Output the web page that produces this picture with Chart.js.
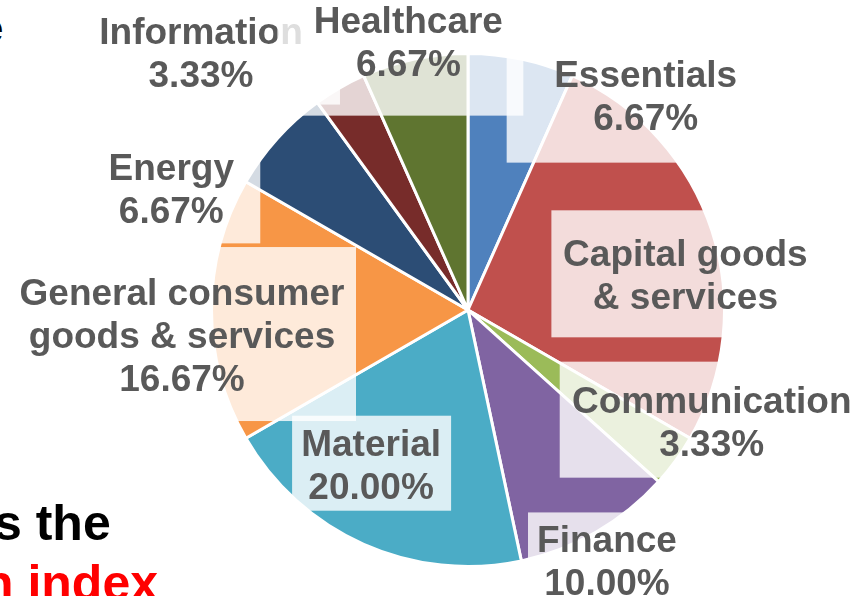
<!DOCTYPE html>
<html>
<head>
<meta charset="utf-8">
<script src="https://cdn.jsdelivr.net/npm/chart.js@4/dist/chart.umd.min.js"></script>
<style>
  body {
    margin: 0;
    width: 856px;
    height: 596px;
    overflow: hidden;
    position: relative;
    background: #fff;
    font-family: "Liberation Sans", Arial, sans-serif;
  }
  #pieChart { position: absolute; left: 0; top: 0; }
  .slideText {
    position: absolute;
    font-weight: bold;
    font-size: 50px;
    line-height: 1;
    white-space: nowrap;
    color: #000;
  }
  .red { color: #ff0000; }
</style>
</head>
<body>
<div class="slideText" style="left:-19px; top:8px; font-size:40px;">e</div>
<div class="slideText" style="left:-6px; top:498px;">s the</div>
<div class="slideText red" style="left:-17px; top:558px;">n index</div>
<canvas id="pieChart" width="856" height="596"></canvas>
<script>
const sectors = [
  "Essentials",
  "Capital goods & services",
  "Communication",
  "Finance",
  "Material",
  "General consumer goods & services",
  "Energy",
  "Information",
  "Healthcare",
];
const shares = [6.67, 26.67, 3.33, 10.0, 20.0, 16.67, 6.67, 3.33, 6.67];
const sectorColors = [
  "#4F81BD", "#C0504D", "#9BBB59", "#8064A2", "#4BACC6",
  "#F79646", "#2C4D75", "#772C2A", "#5F7530",
];

// how each label's name wraps, and whether the share is printed under it
const nameLines = [
  ["Essentials"],
  ["Capital goods", "& services"],
  ["Communication"],
  ["Finance"],
  ["Material"],
  ["General consumer", "goods & services"],
  ["Energy"],
  ["Information"],
  ["Healthcare"],
];
const showShare = [true, false, true, true, true, true, true, true, true];

// label placement: shift from the rim point at the middle of each slice
const labelShift = [
  [124, 29], [-28, 36], [35, -49], [10, 19], [8, -90],
  [-28, -5], [-105, 43], [-138, -43], [-6, -25],
];
// label backing box [left, top, right, bottom] around the first baseline
const labelBox = [
  [-139, -57, 139, 76],
  [-134, -56, 133, 71],
  [-152, -51, 152, 65],
  [-79, -40, 79, 68],
  [-79, -40, 80, 55],
  [-174, -58, 174, 116],
  [-89, -56, 89, 63],
  [-139, -57, 139, 61],
  [-131, -57, 115, 83],
];
const lineGap = 43;

const sectorLabels = {
  id: "sectorLabels",
  afterDatasetsDraw(chart) {
    const ctx = chart.ctx;
    const arcs = chart.getDatasetMeta(0).data;
    ctx.save();
    ctx.font = "bold 37px 'Liberation Sans', Arial, sans-serif";
    ctx.textAlign = "center";
    ctx.textBaseline = "alphabetic";
    arcs.forEach((arc, i) => {
      const { x, y, startAngle, endAngle, outerRadius } = arc.getProps(
        ["x", "y", "startAngle", "endAngle", "outerRadius"],
        true
      );
      const mid = (startAngle + endAngle) / 2;
      const rim = outerRadius + 1.5;
      const px = x + Math.cos(mid) * rim + labelShift[i][0];
      const py = y + Math.sin(mid) * rim + labelShift[i][1];

      const [l, t, r, b] = labelBox[i];
      ctx.fillStyle = "rgba(255, 255, 255, 0.8)";
      ctx.fillRect(px + l, py + t, r - l, b - t);

      const lines = nameLines[i].slice();
      if (showShare[i]) {
        lines.push(`${shares[i].toFixed(2)}%`);
      }
      ctx.fillStyle = "#595959";
      lines.forEach((line, k) => {
        ctx.fillText(line, px, py + k * lineGap);
      });
    });
    ctx.restore();
  },
};

new Chart(document.getElementById("pieChart"), {
  type: "pie",
  data: {
    labels: sectors,
    datasets: [
      {
        data: shares,
        backgroundColor: sectorColors,
        borderColor: "#ffffff",
        borderWidth: 3,
      },
    ],
  },
  options: {
    responsive: false,
    animation: false,
    layout: {
      padding: { left: 210, right: 130, top: 52, bottom: 28 },
    },
    plugins: {
      legend: { display: false },
      tooltip: { enabled: false },
    },
  },
  plugins: [sectorLabels],
});
</script>
</body>
</html>
